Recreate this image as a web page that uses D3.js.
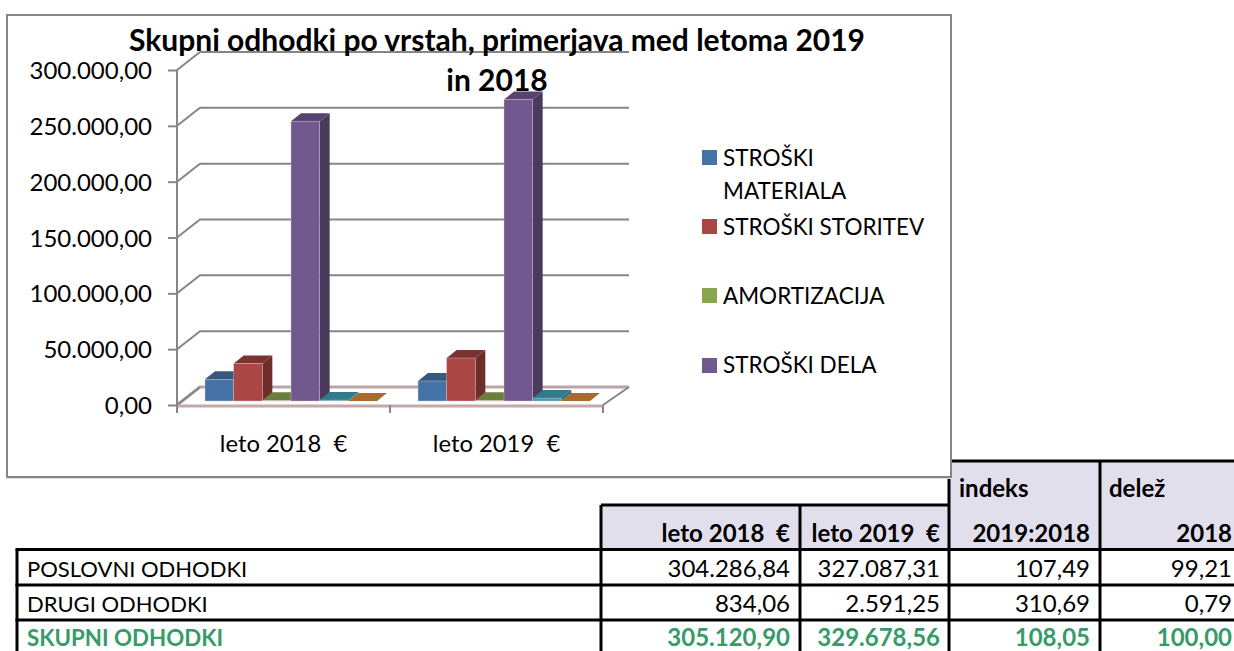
<!DOCTYPE html>
<html>
<head>
<meta charset="utf-8">
<script src="https://cdn.jsdelivr.net/npm/d3@7"></script>
<style>
  html, body { margin: 0; padding: 0; background: #fff; overflow: hidden; }
  text { font-family: Lato, "Open Sans", sans-serif; fill: #000; white-space: pre; }
</style>
</head>
<body>
<div id="chart"></div>
<script>
// chart data
const categories = ["leto 2018  €", "leto 2019  €"];
const material = [19500, 17900];
const storitve = [33500, 38500];
const amortizacija = [700, 700];
const delo = [250600, 270000];
const drugi = [834, 2591];
const ostalo = [0, 0];
const seriesValues = [material, storitve, amortizacija, delo, drugi, ostalo];
const yTicks = [0, 50000, 100000, 150000, 200000, 250000, 300000];

// table data
const rowLabels = ["POSLOVNI ODHODKI", "DRUGI ODHODKI", "SKUPNI ODHODKI"];
const col2018 = [304286.84, 834.06, 305120.90];
const col2019 = [327087.31, 2591.25, 329678.56];
const colIndeks = [107.49, 310.69, 108.05];
const colDelez = [99.21, 0.79, 100.00];

const front = ["#4573a7", "#aa4643", "#89a54e", "#71588f", "#4198af", "#db843d"];
const top_ = ["#37597f", "#7b3331", "#6a7f3d", "#574370", "#2f7a8b", "#a96a2e"];
const side = ["#30507a", "#6e2c2b", "#5c6e35", "#4a3a5e", "#27687a", "#96602a"];

const width = 1234, height = 651;
const svg = d3.select("#chart").append("svg")
  .attr("width", width)
  .attr("height", height)
  .style("display", "block");

const sl = d3.formatLocale({ decimal: ",", thousands: ".", grouping: [3], currency: ["", ""] });
const fmt = sl.format(",.2f");

/////////////////////////
// TABLE (under chart) //
/////////////////////////
const colX = [17, 601, 800, 949, 1100, 1240];
const rowY = [549.5, 585, 620, 660];
const thead = "#e1dfec";
const green = "#369b69";

svg.append("rect").attr("x", colX[1]).attr("y", 505).attr("width", colX[3] - colX[1]).attr("height", 45).attr("fill", thead);
svg.append("rect").attr("x", colX[3]).attr("y", 461).attr("width", width - colX[3]).attr("height", 89).attr("fill", thead);

const tableLines = [
  [colX[3], 461, width, 461],
  [colX[1], 505, colX[3], 505],
  [colX[0] - 1.5, rowY[0], width, rowY[0]],
  [colX[0] - 1.5, rowY[1], width, rowY[1]],
  [colX[0] - 1.5, rowY[2], width, rowY[2]],
  [colX[0], rowY[0], colX[0], height],
  [colX[1], 505, colX[1], height],
  [colX[2], 505, colX[2], height],
  [colX[3], 461, colX[3], height],
  [colX[4], 461, colX[4], height]
];
svg.append("g").selectAll("line").data(tableLines).join("line")
  .attr("x1", d => d[0]).attr("y1", d => d[1])
  .attr("x2", d => d[2]).attr("y2", d => d[3])
  .attr("stroke", "#000").attr("stroke-width", 3);

const headCells = [
  ["indeks", 959, 497, "start"],
  ["delež", 1109, 497, "start"],
  [categories[0], 790, 542, "end"],
  [categories[1], 940, 542, "end"],
  ["2019:2018", 1090, 542, "end"],
  ["2018", 1232, 542, "end"]
];
svg.append("g").selectAll("text").data(headCells).join("text")
  .attr("x", d => d[1]).attr("y", d => d[2])
  .attr("text-anchor", d => d[3])
  .attr("font-size", 24).attr("font-weight", 700)
  .text(d => d[0]);

const baselines = [577, 612, 646];
rowLabels.forEach((lab, i) => {
  const last = i === rowLabels.length - 1;
  const row = svg.append("g")
    .attr("font-weight", last ? 700 : 400);
  const cells = [
    [lab, 27, "start", last ? 22.3 : 22],
    [fmt(col2018[i]), 790, "end", 24],
    [fmt(col2019[i]), 940, "end", 24],
    [fmt(colIndeks[i]), 1090, "end", 24],
    [fmt(colDelez[i]), 1232, "end", 24]
  ];
  row.selectAll("text").data(cells).join("text")
    .attr("x", d => d[1]).attr("y", baselines[i])
    .attr("text-anchor", d => d[2])
    .attr("font-size", d => d[3])
    .style("fill", last ? green : "#000")
    .text(d => d[0]);
});

///////////
// CHART //
///////////
svg.append("rect").attr("x", 7).attr("y", 15).attr("width", 944).attr("height", 462)
  .attr("fill", "#fff").attr("stroke", "#868686").attr("stroke-width", 2);
svg.append("line").attr("x1", 7).attr("x2", 952).attr("y1", 478.5).attr("y2", 478.5).attr("stroke", "#e2e2e2");

const depthX = 23, depthY = -18;   // 3d offset of the back wall
const barDx = 10, barDy = -8;      // 3d offset of one bar
const x0 = d3.scaleBand().domain(categories).range([177, 603]);
const x1 = d3.scaleBand().domain(d3.range(seriesValues.length)).range([0, 172]);
const y = d3.scaleLinear().domain([0, 300000]).range([405, 70]);
const barBase = -4;

// back wall gridlines and side wall diagonals
const grid = svg.append("g").attr("stroke", "#868686").attr("stroke-width", 2).attr("fill", "none");
grid.selectAll("path").data(yTicks.slice(1)).join("path")
  .attr("d", d => `M${x0.range()[0]},${y(d)}l${depthX},${depthY}H${x0.range()[1] + depthX + 3}`);

// floor
const floor = svg.append("g").attr("fill", "none");
floor.append("path")
  .attr("d", `M177,${y(0)}l${depthX},${depthY}H${603 + depthX + 3}`)
  .attr("stroke", "#b9a5a5").attr("stroke-width", 3);
floor.append("path")
  .attr("d", `M603,${y(0)}l${depthX + 3},${depthY}`)
  .attr("stroke", "#868686").attr("stroke-width", 2);
floor.append("path")
  .attr("d", `M177,${y(0)}l${depthX},${depthY}`)
  .attr("stroke", "#868686").attr("stroke-width", 2);
floor.append("line")
  .attr("x1", 177).attr("x2", 603).attr("y1", y(0) + 1).attr("y2", y(0) + 1)
  .attr("stroke", "#c4a9a9").attr("stroke-width", 3);

// bars, left to right so each front covers the side before it
const bars = [];
seriesValues.forEach((vals, s) => {
  vals.forEach((v, c) => bars.push({ s, c, v }));
});
bars.sort((a, b) => a.c - b.c || a.s - b.s);

const barG = svg.append("g").selectAll("g").data(bars).join("g")
  .attr("transform", d => `translate(${x0(categories[d.c]) + 28 + x1(d.s)},${barBase})`);
const bw = x1.bandwidth();
const h = d => y(0) - y(d.v);

barG.append("path")  // side
  .attr("d", d => `M${bw},${y(d.v)}l${barDx},${barDy}V${y(0) + barDy}l${-barDx},${-barDy}Z`)
  .attr("fill", d => side[d.s]);
barG.append("path")  // top
  .attr("d", d => `M0,${y(d.v)}l${barDx},${barDy}h${bw}l${-barDx},${-barDy}Z`)
  .attr("fill", d => top_[d.s]);
barG.append("rect")  // front
  .attr("x", 0).attr("y", d => y(d.v))
  .attr("width", bw).attr("height", h)
  .attr("fill", d => front[d.s])
  .attr("stroke", "#d9c9cf").attr("stroke-width", 0.4);

// axes
const yAxis = d3.axisLeft(y).tickValues(yTicks).tickFormat(fmt).tickSize(9);
const yG = svg.append("g").attr("transform", "translate(177,0)").call(yAxis);
const xAxis = d3.axisBottom(x0).tickSize(0).tickPadding(0);
const xG = svg.append("g").attr("transform", `translate(0,${y(0)})`).call(xAxis);

[yG, xG].forEach(g => {
  g.select(".domain").attr("stroke", "#868686").attr("stroke-width", 2);
  g.selectAll("line").attr("stroke", "#868686").attr("stroke-width", 2);
});
yG.select(".domain").attr("d", `M0,${y(300000)}V${y(0) + 8}`);
xG.select(".domain").attr("stroke-width", 0);
yG.selectAll("text").attr("x", -25).attr("font-size", 24).attr("dy", "0.36em");
xG.selectAll("text").attr("dy", null).attr("y", 47).attr("font-size", 23.8);
// category boundary marks
svg.append("g").selectAll("line").data([x0.range()[0], x0(categories[1]), x0.range()[1]]).join("line")
  .attr("x1", d => d).attr("x2", d => d)
  .attr("y1", y(0)).attr("y2", y(0) + 8)
  .attr("stroke", "#868686").attr("stroke-width", 2);

// legend
const legendSwatch = [150, 219, 288, 358];
const legendLines = [
  ["STROŠKI", 166], ["MATERIALA", 199], ["STROŠKI STORITEV", 235],
  ["AMORTIZACIJA", 304], ["STROŠKI DELA", 373]
];
svg.append("g").selectAll("rect").data(legendSwatch).join("rect")
  .attr("x", 702).attr("y", d => d).attr("width", 15).attr("height", 15)
  .attr("fill", (d, i) => front[i]);
svg.append("g").selectAll("text").data(legendLines).join("text")
  .attr("x", 723).attr("y", d => d[1]).attr("font-size", 22.5)
  .text(d => d[0]);

// title
svg.append("g").selectAll("text")
  .data([["Skupni odhodki po vrstah, primerjava med letoma 2019", 51], ["in 2018", 91]])
  .join("text")
  .attr("x", 497).attr("y", d => d[1])
  .attr("text-anchor", "middle").attr("font-size", 30).attr("font-weight", 700)
  .text(d => d[0]);
</script>
</body>
</html>
